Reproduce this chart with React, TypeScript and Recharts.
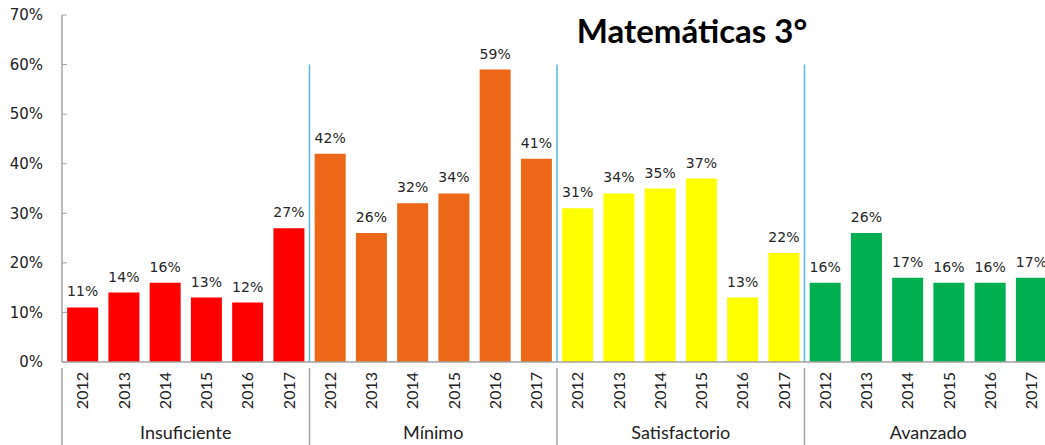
import { BarChart, Bar, XAxis, YAxis, Cell, LabelList, ReferenceLine } from 'recharts';

const years = ['2012', '2013', '2014', '2015', '2016', '2017'];
const levels = ['Insuficiente', 'Mínimo', 'Satisfactorio', 'Avanzado'];

const insuficiente = [11, 14, 16, 13, 12, 27];
const minimo = [42, 26, 32, 34, 59, 41];
const satisfactorio = [31, 34, 35, 37, 13, 22];
const avanzado = [16, 26, 17, 16, 16, 17];

const yTicks = [0, 10, 20, 30, 40, 50, 60, 70];
const groupTicks = [0, 3, 6, 9, 12, 15, 18, 21, 24];
const separators = [6, 12, 18];

const LEVEL_COLORS = ['#FF0000', '#EC6717', '#FFFF00', '#00B050'];
const AXIS = '#a3a3a3';
const SEP = '#56B9EA';
const TEXT = '#222';

const series = [insuficiente, minimo, satisfactorio, avanzado];
const data = series.flatMap((vals, li) =>
  vals.map((v, yi) => ({
    key: `${levels[li]}-${years[yi]}`,
    year: years[yi],
    level: li,
    value: v,
    pos: li * 6 + yi + 0.5,
  })),
);

function YearTick({ x, y, payload }: any) {
  const year = String(payload.value).split('-')[1];
  return (
    <text
      x={x}
      y={y + 10}
      transform={`rotate(-90, ${x}, ${y + 10})`}
      textAnchor="end"
      dy="0.36em"
      fontFamily="Lato"
      fontSize={16}
      fill={TEXT}
    >
      {year}
    </text>
  );
}

function GroupTick({ x, y, payload }: any) {
  const v = payload.value;
  if (v % 6 === 0) {
    return <line x1={x} x2={x} y1={y - 44} y2={y + 40} stroke={AXIS} strokeWidth={1.5} />;
  }
  const name = levels[Math.floor(v / 6)];
  return (
    <text x={x} y={y + 27} textAnchor="middle" fontFamily="Lato" fontSize={18} fill={TEXT}>
      {name}
    </text>
  );
}

export default function App() {
  return (
    <div style={{ position: 'fixed', left: 0, top: 0, width: 1045, height: 445, overflow: 'hidden', background: '#fff' }}>
      <div style={{
        position: 'absolute', left: 692, top: 12, transform: 'translateX(-50%)',
        fontFamily: 'Lato', fontWeight: 700, fontSize: 33, color: '#000', whiteSpace: 'nowrap', lineHeight: '36px',
      }}>
        Matemáticas 3°
      </div>
      <BarChart
        width={1052}
        height={445}
        data={data}
        margin={{ top: 15, right: 0, left: 0, bottom: 0 }}
        barCategoryGap="12.5%"
      >
        <XAxis
          dataKey="key"
          interval={0}
          height={50}
          tickSize={0}
          tickMargin={0}
          tickLine={false}
          axisLine={{ stroke: AXIS, strokeWidth: 1.5 }}
          tick={<YearTick />}
        />
        <XAxis
          xAxisId="grp"
          type="number"
          dataKey="pos"
          domain={[0, 24]}
          allowDataOverflow
          ticks={groupTicks}
          interval={0}
          height={33}
          tickSize={0}
          tickMargin={0}
          tickLine={false}
          axisLine={false}
          tick={<GroupTick />}
        />
        <YAxis
          width={62}
          domain={[0, 70]}
          ticks={yTicks}
          interval={0}
          tickFormatter={(v: number) => `${v}%`}
          axisLine={{ stroke: AXIS, strokeWidth: 1.5 }}
          tickLine={{ stroke: AXIS }}
          tickSize={-5}
          tickMargin={24}
          tick={{ fontFamily: 'DejaVu Sans', fontSize: 15, fill: TEXT }}
        />
        {separators.map((s) => (
          <ReferenceLine
            key={s}
            xAxisId="grp"
            segment={[{ x: s, y: 0 }, { x: s, y: 60 }]}
            stroke={SEP}
            strokeWidth={1.5}
          />
        ))}
        <Bar dataKey="value" isAnimationActive={false}>
          {data.map((d) => (
            <Cell key={d.key} fill={LEVEL_COLORS[d.level]} />
          ))}
          <LabelList
            dataKey="value"
            position="top"
            offset={11}
            formatter={(v: any) => `${v}%`}
            style={{ fontFamily: 'DejaVu Sans', fontSize: 14, fill: '#262626' }}
          />
        </Bar>
      </BarChart>
    </div>
  );
}
